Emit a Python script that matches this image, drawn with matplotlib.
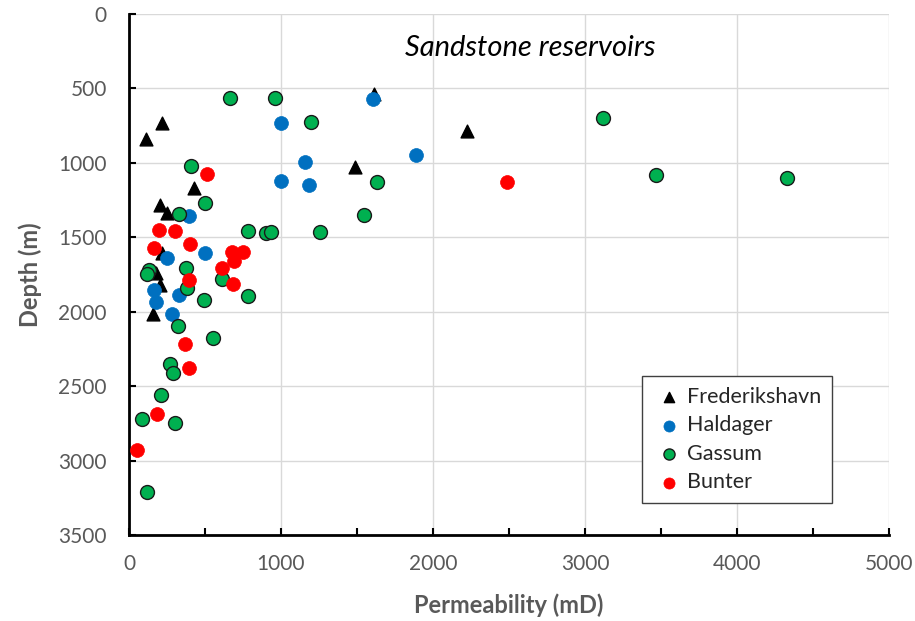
import matplotlib.pyplot as plt
import numpy as np

plt.rcParams['font.family'] = ['Lato', 'DejaVu Sans']

# Permeability (mD) and depth (m) per formation
fred_perm = [110, 215, 430, 205, 250, 215, 180, 205, 155, 1610, 1490, 2225]
fred_depth = [840, 735, 1170, 1285, 1340, 1605, 1740, 1820, 2015, 535, 1025, 785]

hald_perm = [998, 1158, 998, 1186, 397, 498, 248, 167, 178, 329, 281, 1607, 1890]
hald_depth = [735, 997, 1121, 1150, 1358, 1605, 1636, 1851, 1934, 1890, 2017, 572, 948]

gass_perm = [667, 960, 1195, 410, 498, 331, 785, 901, 932, 1254, 131, 120, 377,
             612, 379, 496, 785, 320, 555, 270, 292, 213, 83, 305, 118, 1629,
             1548, 3116, 3467, 4329]
gass_depth = [563, 563, 728, 1018, 1273, 1343, 1455, 1468, 1464, 1464, 1722, 1744,
              1708, 1780, 1840, 1919, 1897, 2098, 2177, 2349, 2410, 2558, 2721,
              2748, 3210, 1128, 1352, 702, 1083, 1101]

bunt_perm = [513, 195, 305, 167, 401, 678, 748, 691, 610, 397, 684, 368, 393,
             184, 53, 2489]
bunt_depth = [1076, 1453, 1457, 1571, 1542, 1598, 1598, 1661, 1704, 1789, 1811,
              2219, 2376, 2688, 2928, 1128]

fig = plt.figure(figsize=(9.15, 6.21), dpi=100)
ax = fig.add_axes([0.141, 0.1385, 0.8306, 0.839])

ax.scatter(fred_perm, fred_depth, marker='^', s=85, color='black', zorder=3,
           label='Frederikshavn')
ax.scatter(hald_perm, hald_depth, marker='o', s=100, color='#0070C0',
           edgecolors='#0070C0', linewidths=0.5, zorder=4, label='Haldager')
ax.scatter(gass_perm, gass_depth, marker='o', s=100, color='#00B050',
           edgecolors='#1a1a1a', linewidths=1.0, zorder=5, label='Gassum')
ax.scatter(bunt_perm, bunt_depth, marker='o', s=100, color='#FF0000',
           edgecolors='#FF0000', linewidths=0.5, zorder=6, label='Bunter')

ax.set_xlim(0, 5000)
ax.set_ylim(3500, 0)
ax.set_xticks(np.arange(0, 5001, 1000))
ax.set_xticks(np.arange(500, 5000, 1000), minor=True)
ax.set_yticks(np.arange(0, 3501, 500))

ax.grid(True, which='major', color='#d9d9d9', linewidth=1.0, zorder=0)
ax.set_axisbelow(True)

for s in ['top', 'right']:
    ax.spines[s].set_visible(False)
for s in ['left', 'bottom']:
    ax.spines[s].set_linewidth(2.0)
    ax.spines[s].set_color('black')

ax.tick_params(axis='both', which='major', direction='in', length=5, width=1.5,
               labelsize=15, labelcolor='#595959')
ax.tick_params(axis='x', which='minor', direction='in', length=5, width=1.5)
ax.tick_params(axis='x', pad=14)
ax.tick_params(axis='y', pad=16)

ax.set_xlabel('Permeability (mD)', fontsize=17, fontweight='bold',
              color='#595959', labelpad=14)
ax.set_ylabel('Depth (m)', fontsize=17, fontweight='bold', color='#595959',
              labelpad=12)

ax.text(0.528, 0.935, 'Sandstone reservoirs', transform=ax.transAxes,
        fontsize=21, fontstyle='italic', ha='center', va='center')

leg = ax.legend(loc='lower right', bbox_to_anchor=(0.925, 0.061), fontsize=15.5,
                frameon=True, fancybox=False, framealpha=1, edgecolor='#404040',
                handletextpad=0.1, borderpad=0.5, labelspacing=0.4,
                markerscale=0.8, handlelength=1.5, borderaxespad=0)
leg.get_frame().set_linewidth(1.0)
for t in leg.get_texts():
    t.set_color('#262626')
leg.set_zorder(10)

fig.savefig('out.png', dpi=100)
